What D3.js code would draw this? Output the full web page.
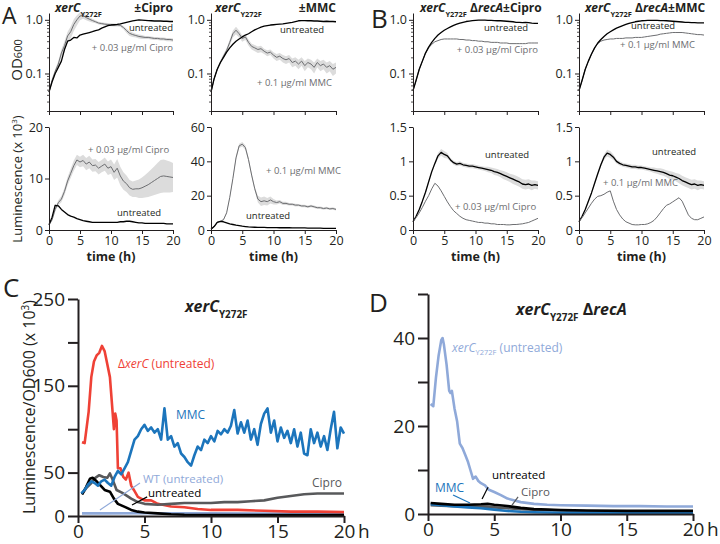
<!DOCTYPE html>
<html>
<head>
<meta charset="utf-8">
<script src="https://cdn.jsdelivr.net/npm/d3@7"></script>
<style>
  body { margin: 0; background: #fff; }
  svg text { font-family: "Open Sans", "Noto Sans", sans-serif; }
</style>
</head>
<body>
<script>
// ---- time grid for the plate-reader panels (A, B) ----
var hours = [0,0.5,1,1.5,2,2.5,3,3.5,4,4.5,5,5.5,6,6.5,7,7.5,8,8.5,9,9.5,
  10,10.5,11,11.5,12,12.5,13,13.5,14,14.5,15,15.5,16,16.5,17,17.5,18,18.5,19,19.5,20];

// A: xerC Y272F, OD600
var odUntrA1 = [0.045,0.07,0.1,0.13,0.17,0.28,0.4,0.42,0.47,0.46,0.52,0.54,0.56,0.58,0.6,0.63,0.65,0.7,0.74,0.78,
  0.8,0.81,0.82,0.84,0.87,0.9,0.93,0.96,0.98,1.0,0.99,0.98,0.97,0.96,0.95,0.95,0.95,0.94,0.94,0.93,0.93];
var odCipro = [0.045,0.075,0.11,0.15,0.24,0.33,0.5,0.6,0.82,1.0,1.18,1.2,1.1,1.03,0.97,0.92,0.87,0.85,0.83,0.82,
  0.81,0.8,0.8,0.79,0.72,0.63,0.56,0.53,0.51,0.49,0.48,0.47,0.47,0.46,0.45,0.45,0.44,0.44,0.43,0.43,0.42];
var odCiproSd = [0.003,0.006,0.01,0.02,0.04,0.07,0.1,0.15,0.2,0.22,0.2,0.15,0.12,0.1,0.08,0.06,0.05,0.05,0.05,0.05,
  0.05,0.05,0.05,0.05,0.05,0.06,0.06,0.05,0.04,0.04,0.04,0.03,0.03,0.03,0.03,0.03,0.03,0.03,0.03,0.03,0.03];
var odUntrA2 = [0.045,0.08,0.12,0.16,0.2,0.25,0.3,0.35,0.4,0.44,0.48,0.52,0.55,0.6,0.65,0.69,0.73,0.76,0.78,0.8,
  0.81,0.82,0.83,0.84,0.86,0.88,0.9,0.93,0.96,0.97,0.97,0.96,0.96,0.95,0.95,0.94,0.93,0.94,0.93,0.93,0.92];
var odMmc = [0.045,0.08,0.12,0.16,0.21,0.27,0.38,0.55,0.64,0.55,0.45,0.48,0.38,0.32,0.3,0.28,0.29,0.26,0.24,0.25,
  0.22,0.2,0.21,0.19,0.18,0.19,0.16,0.17,0.15,0.17,0.14,0.16,0.15,0.13,0.16,0.14,0.15,0.13,0.14,0.12,0.13];
var odMmcSd = [0.003,0.006,0.01,0.015,0.02,0.03,0.05,0.08,0.1,0.08,0.06,0.06,0.05,0.04,0.04,0.04,0.04,0.03,0.03,0.03,
  0.03,0.03,0.03,0.03,0.03,0.03,0.03,0.03,0.03,0.03,0.03,0.03,0.03,0.03,0.03,0.03,0.03,0.03,0.03,0.03,0.03];

// B: xerC Y272F ΔrecA, OD600
var odUntrB1 = [0.048,0.075,0.12,0.17,0.24,0.31,0.38,0.45,0.52,0.58,0.64,0.69,0.74,0.79,0.83,0.87,0.9,0.93,0.95,0.97,
  0.98,0.99,0.99,0.99,0.98,0.98,0.97,0.96,0.96,0.95,0.94,0.93,0.92,0.9,0.9,0.89,0.9,0.89,0.87,0.86,0.86];
var odCiproB = [0.048,0.075,0.12,0.17,0.24,0.3,0.35,0.39,0.41,0.43,0.44,0.44,0.44,0.44,0.44,0.43,0.43,0.42,0.42,0.41,
  0.41,0.4,0.4,0.39,0.39,0.38,0.38,0.38,0.37,0.37,0.37,0.36,0.36,0.36,0.36,0.36,0.36,0.37,0.37,0.37,0.37];
var odUntrB2 = [0.048,0.075,0.12,0.17,0.23,0.3,0.37,0.43,0.49,0.55,0.6,0.65,0.7,0.74,0.78,0.82,0.86,0.89,0.92,0.94,
  0.96,0.97,0.98,0.98,0.98,0.98,0.97,0.97,0.96,0.95,0.94,0.93,0.92,0.91,0.9,0.9,0.89,0.89,0.88,0.88,0.88];
var odMmcB = [0.048,0.075,0.12,0.17,0.23,0.3,0.36,0.4,0.42,0.43,0.44,0.44,0.45,0.45,0.45,0.46,0.46,0.46,0.47,0.47,
  0.47,0.48,0.49,0.5,0.51,0.52,0.54,0.55,0.56,0.57,0.58,0.58,0.58,0.58,0.57,0.56,0.55,0.54,0.53,0.53,0.52];

// luminescence (x 10^3)
var lumUntrA1 = [1.0,2.5,4.8,4.7,4.0,3.5,3.0,2.7,2.5,2.2,2.0,1.8,1.7,1.6,1.5,1.5,1.5,1.5,1.5,1.5,
  1.5,1.5,1.5,1.6,1.6,1.7,1.7,1.6,1.5,1.4,1.4,1.3,1.3,1.3,1.3,1.3,1.3,1.3,1.2,1.2,1.2];
var lumCipro = [1.0,2.0,4.0,5.3,6.0,7.5,9.5,11.0,12.5,13.6,13.2,13.5,12.8,13.2,12.5,12.6,12.0,12.4,12.8,12.0,
  12.3,11.2,12.0,10.5,9.5,9.0,8.2,7.9,8.0,8.0,8.2,8.5,8.8,9.2,9.6,10.0,10.4,10.5,10.4,10.3,10.2];
var lumCiproSd = [0.2,0.3,0.4,0.5,0.6,0.7,0.8,0.9,1.0,1.0,1.0,1.1,1.2,1.2,1.2,1.2,1.2,1.2,1.3,1.3,
  1.4,1.5,1.8,1.8,1.7,1.6,1.5,1.5,1.6,1.8,2.0,2.2,2.4,2.6,2.8,3.0,3.2,3.2,3.1,3.0,2.8];
var lumUntrA2 = [0.5,2.0,4.5,5.0,4.8,4.2,3.6,3.2,2.8,2.5,2.2,2.0,1.8,1.7,1.6,1.5,1.5,1.5,1.4,1.4,
  1.4,1.4,1.3,1.3,1.3,1.3,1.2,1.2,1.2,1.2,1.2,1.1,1.1,1.1,1.1,1.1,1.0,1.0,1.0,1.0,1.0];
var lumMmc = [0.5,2.0,4.5,5.0,6.0,10,19,30,42,49,50,48,41,32,24,18,16.5,17,16.5,17.5,
  16.5,16,16.5,15.5,15.5,15,15,14.5,14.5,14,14,13.5,14,13.5,13,13,12.5,12.8,12.3,12.5,12];
var lumMmcSd = [0.2,0.3,0.4,0.4,0.5,0.6,0.8,1,1.2,1.3,1.3,1.3,1.2,1.1,1.2,2.0,2.5,2.5,2.2,2.0,
  1.6,1.2,1.0,1.0,0.9,0.8,0.8,0.8,0.7,0.7,0.7,0.7,0.7,0.7,0.7,0.7,0.7,0.7,0.7,0.7,0.7];
var lumUntrB1 = [0.12,0.2,0.3,0.42,0.55,0.7,0.85,0.97,1.08,1.13,1.1,1.08,1.02,0.98,0.96,0.97,0.95,0.94,0.93,0.93,
  0.92,0.91,0.9,0.89,0.88,0.87,0.85,0.84,0.82,0.8,0.78,0.76,0.74,0.72,0.7,0.67,0.66,0.67,0.65,0.66,0.65];
var lumUntrB1Sd = [0.01,0.01,0.02,0.02,0.02,0.03,0.03,0.03,0.04,0.05,0.05,0.04,0.03,0.03,0.03,0.03,0.03,0.03,0.03,0.03,
  0.03,0.03,0.03,0.03,0.04,0.04,0.05,0.05,0.05,0.06,0.06,0.06,0.07,0.07,0.07,0.07,0.07,0.07,0.07,0.06,0.06];
var lumCiproB = [0.12,0.18,0.25,0.33,0.42,0.5,0.6,0.68,0.64,0.57,0.49,0.41,0.34,0.28,0.24,0.2,0.17,0.15,0.14,0.13,
  0.12,0.11,0.11,0.1,0.1,0.09,0.09,0.08,0.08,0.08,0.075,0.075,0.08,0.08,0.085,0.09,0.1,0.11,0.13,0.15,0.17];
var lumUntrB2 = [0.12,0.2,0.3,0.42,0.54,0.68,0.82,0.95,1.06,1.12,1.1,1.06,1.0,0.97,0.95,0.94,0.93,0.92,0.92,0.91,
  0.91,0.9,0.89,0.88,0.87,0.86,0.85,0.84,0.82,0.8,0.79,0.77,0.75,0.72,0.7,0.68,0.66,0.67,0.65,0.66,0.65];
var lumUntrB2Sd = [0.01,0.01,0.02,0.02,0.02,0.03,0.03,0.03,0.04,0.05,0.05,0.04,0.03,0.03,0.03,0.03,0.03,0.03,0.03,0.03,
  0.03,0.03,0.03,0.03,0.04,0.04,0.05,0.05,0.05,0.06,0.06,0.06,0.07,0.07,0.07,0.07,0.07,0.07,0.07,0.06,0.06];
var lumMmcB = [0.12,0.18,0.25,0.32,0.39,0.45,0.49,0.5,0.52,0.55,0.57,0.42,0.3,0.22,0.16,0.12,0.1,0.08,0.075,0.075,
  0.08,0.08,0.09,0.11,0.14,0.19,0.25,0.31,0.36,0.38,0.41,0.44,0.47,0.42,0.32,0.22,0.17,0.15,0.15,0.17,0.19];

// C: luminescence / OD600 (x 10^3), xerC Y272F
var cXerHours = [0.3,0.5,0.8,1.0,1.2,1.4,1.6,1.8,2.0,2.2,2.4,2.6,2.7,2.8,2.9,3.0,3.2,3.4,3.6,3.8,4.0,4.2,4.5,5,5.5,6,7,8,9,10,12,14,16,18,20];
var cXerValues = [85,84,120,160,178,185,188,196,190,175,160,120,100,118,110,55,55,45,42,50,35,30,22,18,18,14,11,10,8,7,7,6,5,5,4.5];
var cMmcHours = [0.25,0.5,0.75,1,1.25,1.5,1.75,2,2.25,2.5,2.75,3,3.25,3.5,3.75,4,4.25,4.5,4.75,5,
  5.25,5.5,5.75,6,6.25,6.5,6.75,7,7.25,7.5,7.75,8,8.25,8.5,8.75,9,9.25,9.5,9.75,10,
  10.25,10.5,10.75,11,11.25,11.5,11.75,12,12.25,12.5,12.75,13,13.25,13.5,13.75,14,14.25,14.5,14.75,15,
  15.25,15.5,15.75,16,16.25,16.5,16.75,17,17.25,17.5,17.75,18,18.25,18.5,18.75,19,19.25,19.5,19.75,20];
var cMmcValues = [26,30,36,40,38,35,40,42,38,35,45,52,48,55,62,75,88,92,100,105,
  98,102,96,100,88,124,88,92,80,84,72,68,62,58,70,80,76,88,84,92,
  86,98,94,100,96,104,122,95,108,96,110,88,100,82,106,118,124,96,110,86,
  102,90,98,84,100,80,96,72,70,100,84,96,80,92,76,100,120,78,102,95];
var cCiproHours = [0.3,0.6,1.0,1.3,1.6,1.9,2.2,2.4,2.6,2.9,3.3,3.6,4.0,4.5,5,6,7,8,9,10,11,12,13,14,15,16,17,18,19,20];
var cCiproValues = [25,32,38,44,47,45,44,49,42,30,27,24,20,16,14,13,14,15,15,15,16,16,17,18,21,23,25,26,26,26];
var cUntrHours = [0.3,0.6,0.9,1.1,1.4,1.7,2.0,2.4,2.7,3.0,3.6,4.0,4.5,5,6,7,8,10,12,15,20];
var cUntrValues = [25,33,43,44,40,35,30,28,20,14,10,7,5,4,3,2,1.5,1.2,1,1,1];
var cWtHours = [0.3,2,5,10,15,20];
var cWtValues = [3,3,3.2,3,2.8,2.6];

// D: luminescence / OD600 (x 10^3), xerC Y272F ΔrecA
var dXerHours = [0.2,0.4,0.6,0.8,1.0,1.1,1.2,1.4,1.6,1.7,1.8,2.0,2.2,2.4,2.6,2.8,3.0,3.2,3.4,3.6,3.8,4.0,4.3,4.6,5,5.5,6,7,8,9,10,12,14,16,18,20];
var dXerValues = [25,24.5,31,36,39.5,40,38.5,34,28,27.5,28,24,21,16,15,13.5,12,10,8,8.5,7.5,7,6.5,5.5,5,4.3,3.5,2.7,2.3,2.1,2,1.9,1.8,1.8,1.7,1.7];
var dUntrHours = [0.2,1,2,3,4,4.5,5,6,7,8,10,12,15,18,20];
var dUntrValues = [2.5,2.3,2.1,2.1,2.2,2.3,2.1,1.8,1.4,1.1,0.9,0.8,0.7,0.7,0.7];
var dMmcHours = [0.2,1,2,3,4,5,6,7,8,10,12,15,18,20];
var dMmcValues = [2.2,2.0,1.7,1.5,1.3,1.0,0.7,0.5,0.4,0.3,0.3,0.3,0.3,0.3];
var dCiproHours = [0.2,1,2,3,4,5,6,7,8,10,12,15,18,20];
var dCiproValues = [2.0,1.9,1.8,1.8,1.7,1.5,1.3,1.1,1.0,0.8,0.6,0.5,0.4,0.4];

var xTickValues = [0, 5, 10, 15, 20];

// ---------------------------------------------------------------
var ink = "#231f20", FONT = '"Open Sans", "Noto Sans", sans-serif';
var gray = "#6d6e71";
var svg = d3.select("body").append("svg").attr("width", 720).attr("height", 544);

function styleAxis(g, w, fs) {
  g.attr("font-family", FONT).attr("font-size", fs);
  g.selectAll("path, line").attr("stroke", ink).attr("stroke-width", w);
  g.selectAll("text").attr("fill", ink);
}

function note(x, y, txt, color, size, anchor) {
  return svg.append("text").attr("x", x).attr("y", y).attr("fill", color)
    .attr("font-size", size).attr("text-anchor", anchor || "start").text(txt);
}

// strain title: xerC + subscript Y272F + optional extra parts
function strainTitle(x, y, size, rest, anchor, color) {
  var t = svg.append("text").attr("x", x).attr("y", y).attr("font-size", size)
    .attr("font-weight", "bold").attr("fill", color || ink).attr("text-anchor", anchor || "start");
  t.append("tspan").attr("font-style", "italic").text("xerC");
  t.append("tspan").attr("font-size", size * 0.62).attr("dy", size * 0.38).text("Y272F");
  var first = true;
  (rest || []).forEach(function (r) {
    var s = t.append("tspan").text(r[0]);
    if (first) { s.attr("dy", -size * 0.38); first = false; }
    if (r[1]) s.attr("font-style", "italic");
  });
  return t;
}

function drawMini(p) {
  var x = d3.scaleLinear().domain([0, 20]).range(p.xr);
  var y = p.y, bottom = y.range()[0], lo = y.domain()[0];
  var g = svg.append("g");
  p.series.forEach(function (s) {
    if (!s.sd) return;
    g.append("path").datum(hours).attr("fill", "#dcdcdc")
      .attr("d", d3.area()
        .x(function (d) { return x(d); })
        .y0(function (d, i) { return y(Math.max(s.v[i] - s.sd[i], lo)); })
        .y1(function (d, i) { return y(s.v[i] + s.sd[i]); }));
  });
  p.series.forEach(function (s) {
    g.append("path").datum(hours).attr("fill", "none").attr("stroke", s.c)
      .attr("stroke-width", s.w).attr("stroke-linejoin", "round")
      .attr("d", d3.line().x(function (d) { return x(d); })
        .y(function (d, i) { return y(s.v[i]); }));
  });
  var xa = d3.axisBottom(x).tickValues(xTickValues).tickSize(4).tickSizeOuter(0).tickPadding(2);
  if (!p.xLabels) xa.tickFormat("");
  var gx = g.append("g").attr("transform", "translate(0," + bottom + ")").call(xa);
  styleAxis(gx, 1, 12.5);
  if (p.xLabels) {
    g.append("text").attr("x", (p.xr[0] + p.xr[1]) / 2).attr("y", bottom + 31)
      .attr("text-anchor", "middle").attr("font-size", 12.5).attr("font-weight", "bold")
      .attr("fill", ink).text("time (h)");
  }
  var ya = d3.axisLeft(y).tickValues(p.yTicks).tickFormat(p.yFmt).tickSize(4).tickSizeOuter(0).tickPadding(2);
  var gy = g.append("g").attr("transform", "translate(" + p.xr[0] + ",0)").call(ya);
  styleAxis(gy, 1, 12.5);
  if (p.minor) {
    var gm = g.append("g").attr("transform", "translate(" + p.xr[0] + ",0)")
      .call(d3.axisLeft(y).tickValues(p.minor).tickFormat("").tickSize(2).tickSizeOuter(0));
    gm.select(".domain").remove();
    styleAxis(gm, 0.8, 10);
  }
  (p.notes || []).forEach(function (n) { note(n[0], n[1], n[2], n[3], 9.5, n[4]); });
}

var odY = function () { return d3.scaleLog().domain([0.02, 1.34]).range([111, 13]); };
var odMinor = [0.02,0.03,0.04,0.05,0.06,0.07,0.08,0.09,0.2,0.3,0.4,0.5,0.6,0.7,0.8,0.9];
var odFmt = function (d) { return d === 1 ? "1.0" : "0.1"; };
var lumY = function (m) { return d3.scaleLinear().domain([0, m]).range([230, 127]); };

// ---- A, OD ----
drawMini({ xr: [49, 173], y: odY(), yTicks: [0.1, 1], yFmt: odFmt, minor: odMinor,
  series: [{ v: odCipro, sd: odCiproSd, c: "#6d6e71", w: 1 }, { v: odUntrA1, c: "#000", w: 1.3 }],
  notes: [[173, 31, "untreated", ink, "end"], [173, 51, "+ 0.03 μg/ml Cipro", gray, "end"]] });
drawMini({ xr: [211, 336], y: odY(), yTicks: [0.1, 1], yFmt: odFmt, minor: odMinor,
  series: [{ v: odMmc, sd: odMmcSd, c: "#6d6e71", w: 1 }, { v: odUntrA2, c: "#000", w: 1.3 }],
  notes: [[280, 33, "untreated", ink], [257, 86, "+ 0.1 μg/ml MMC", gray]] });
// ---- B, OD ----
drawMini({ xr: [413, 538], y: odY(), yTicks: [0.1, 1], yFmt: odFmt, minor: odMinor,
  series: [{ v: odCiproB, c: "#6d6e71", w: 1 }, { v: odUntrB1, c: "#000", w: 1.3 }],
  notes: [[484, 31, "untreated", ink], [538, 53, "+ 0.03 μg/ml Cipro", gray, "end"]] });
drawMini({ xr: [579, 704], y: odY(), yTicks: [0.1, 1], yFmt: odFmt, minor: odMinor,
  series: [{ v: odMmcB, c: "#6d6e71", w: 1 }, { v: odUntrB2, c: "#000", w: 1.3 }],
  notes: [[631, 29, "untreated", ink], [620, 48, "+ 0.1 μg/ml MMC", gray]] });

// ---- luminescence row ----
drawMini({ xr: [49, 173], y: lumY(20), yTicks: [0, 10, 20], yFmt: d3.format("d"), xLabels: true,
  series: [{ v: lumCipro, sd: lumCiproSd, c: "#6d6e71", w: 1 }, { v: lumUntrA1, c: "#000", w: 1.3 }],
  notes: [[88, 153, "+ 0.03 μg/ml Cipro", gray], [117, 216, "untreated", ink]] });
drawMini({ xr: [211, 336], y: lumY(60), yTicks: [0, 20, 40, 60], yFmt: d3.format("d"), xLabels: true,
  series: [{ v: lumMmc, sd: lumMmcSd, c: "#6d6e71", w: 1 }, { v: lumUntrA2, c: "#000", w: 1.3 }],
  notes: [[266, 174, "+ 0.1 μg/ml MMC", gray], [246, 219, "untreated", ink]] });
drawMini({ xr: [413, 538], y: lumY(1.5), yTicks: [0, 0.5, 1, 1.5], yFmt: d3.format("~g"), xLabels: true,
  series: [{ v: lumUntrB1, sd: lumUntrB1Sd, c: "#000", w: 1.3 }, { v: lumCiproB, c: "#6d6e71", w: 1 }],
  notes: [[485, 158, "untreated", ink], [455, 210, "+ 0.03 μg/ml Cipro", gray]] });
drawMini({ xr: [579, 704], y: lumY(1.5), yTicks: [0, 0.5, 1, 1.5], yFmt: d3.format("~g"), xLabels: true,
  series: [{ v: lumUntrB2, sd: lumUntrB2Sd, c: "#000", w: 1.3 }, { v: lumMmcB, c: "#6d6e71", w: 1 }],
  notes: [[652, 155, "untreated", ink], [603, 186, "+ 0.1 μg/ml MMC", gray]] });

// titles of A/B
strainTitle(55, 12, 12);
note(173, 12, "±Cipro", ink, 12, "end").attr("font-weight", "bold");
strainTitle(215, 12, 12);
note(336, 12, "±MMC", ink, 12, "end").attr("font-weight", "bold");
strainTitle(420, 12, 12, [[" Δ"], ["recA", true], ["±Cipro"]]);
strainTitle(585, 12, 12, [[" Δ"], ["recA", true], ["±MMC"]]);

// y labels of A
var odLab = svg.append("text").attr("transform", "translate(22,60) rotate(-90)")
  .attr("text-anchor", "middle").attr("font-size", 15).attr("fill", ink);
odLab.append("tspan").text("OD");
odLab.append("tspan").attr("font-size", 11).text("600");
var lumLab = svg.append("text").attr("transform", "translate(22,179) rotate(-90)")
  .attr("text-anchor", "middle").attr("font-size", 13).attr("fill", ink);
lumLab.append("tspan").text("Luminescence (x 10");
lumLab.append("tspan").attr("font-size", 8).attr("dy", -5).text("3");
lumLab.append("tspan").attr("dy", 5).text(")");

// panel letters
note(2, 24, "A", ink, 23);
note(371, 28, "B", ink, 26);
note(3, 297, "C", ink, 26);
note(369, 312, "D", ink, 26);

// ---- C ----
var xC = d3.scaleLinear().domain([0, 20]).range([78, 344]);
var yC = d3.scaleLinear().domain([0, 250]).range([516, 299]);
var xD = d3.scaleLinear().domain([0, 20]).range([428, 693]);
var yD = d3.scaleLinear().domain([0, 50]).range([514, 294]);

function bigLine(xs, ys, hrs, vals, color) {
  var pts = hrs.map(function (h, i) { return [h, vals[i]]; });
  svg.append("path").datum(pts).attr("fill", "none").attr("stroke", color)
    .attr("stroke-width", 2.6).attr("stroke-linejoin", "round")
    .attr("d", d3.line().x(function (d) { return xs(d[0]); }).y(function (d) { return ys(d[1]); }));
}
function pointer(xs, ys, a, b, color) {
  svg.append("line").attr("x1", xs(a[0])).attr("y1", ys(a[1])).attr("x2", xs(b[0])).attr("y2", ys(b[1]))
    .attr("stroke", color).attr("stroke-width", 1.2);
}

var cRed = "#ef4136", cBlue = "#1c75bc", cLight = "#8fa9d9", cGray = "#58595b";

bigLine(xC, yC, cWtHours, cWtValues, cLight);
bigLine(xC, yC, cXerHours, cXerValues, cRed);
bigLine(xC, yC, cCiproHours, cCiproValues, cGray);
bigLine(xC, yC, cUntrHours, cUntrValues, "#000");
bigLine(xC, yC, cMmcHours, cMmcValues, cBlue);

function bigAxes(xs, ys, yTicks, yLabeled) {
  var gx = svg.append("g").attr("transform", "translate(0," + ys.range()[0] + ")")
    .call(d3.axisBottom(xs).tickValues(xTickValues).tickSize(7).tickSizeOuter(0).tickPadding(2));
  styleAxis(gx, 2, 19);
  var gy = svg.append("g").attr("transform", "translate(" + xs.range()[0] + ",0)")
    .call(d3.axisLeft(ys).tickValues(yTicks).tickSize(10).tickSizeOuter(0).tickPadding(3)
      .tickFormat(function (d) { return yLabeled.indexOf(d) >= 0 ? d : ""; }));
  styleAxis(gy, 2, 19);
  note(xs.range()[1] + 14, ys.range()[0] + 22, "h", ink, 19);
}
bigAxes(xC, yC, [0, 50, 100, 150, 200, 250], [0, 50, 150, 250]);

var cLab = svg.append("text").attr("transform", "translate(35,407) rotate(-90)")
  .attr("text-anchor", "middle").attr("font-size", 16).attr("fill", ink);
cLab.append("tspan").text("Luminescence/OD600 (x 10");
cLab.append("tspan").attr("font-size", 10).attr("dy", -6).text("3");
cLab.append("tspan").attr("dy", 6).text(")");

strainTitle(185, 312, 16);
var tx = note(118, 368, "", cRed, 12);
tx.append("tspan").text("Δ");
tx.append("tspan").attr("font-style", "italic").text("xerC");
tx.append("tspan").text(" (untreated)");
note(176, 419, "MMC", cBlue, 12);
note(143, 483, "WT (untreated)", cLight, 11.5);
note(148, 497, "untreated", "#000", 11.5);
note(312, 487, "Cipro", cGray, 12);
pointer(xC, yC, [4.66, 38], [1.65, 7], cLight);
pointer(xC, yC, [5.2, 22], [4.06, 12.7], "#000");

// ---- D ----
bigLine(xD, yD, dCiproHours, dCiproValues, cGray);
bigLine(xD, yD, dMmcHours, dMmcValues, cBlue);
bigLine(xD, yD, dUntrHours, dUntrValues, "#000");
bigLine(xD, yD, dXerHours, dXerValues, cLight);
bigAxes(xD, yD, [0, 10, 20, 30, 40, 50], [0, 20, 40]);

strainTitle(516, 315, 16, [[" Δ"], ["recA", true]]);
var td = note(452, 352, "", cLight, 12);
td.append("tspan").attr("font-style", "italic").text("xerC");
td.append("tspan").attr("font-size", 7.5).attr("dy", 3).text("Y272F");
td.append("tspan").attr("dy", -3).text(" (untreated)");
note(492, 479, "untreated", "#000", 11.5);
note(521, 496, "Cipro", cGray, 11.5);
note(435, 492, "MMC", cBlue, 12);
pointer(xD, yD, [4.53, 6.1], [4.08, 3.4], "#000");
pointer(xD, yD, [1.89, 4.3], [3.17, 2.5], cBlue);
pointer(xD, yD, [6.8, 3.9], [6.34, 2.0], cGray);
</script>
</body>
</html>
